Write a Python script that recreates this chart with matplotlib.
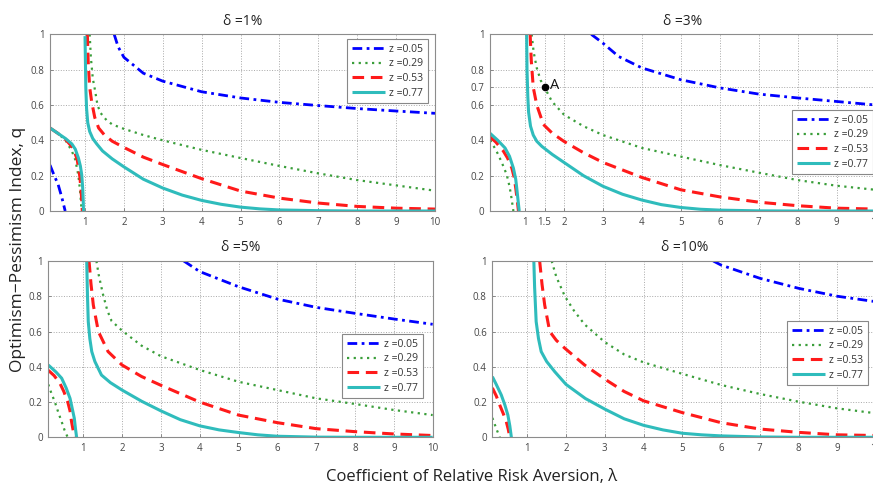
import matplotlib
matplotlib.use('Agg')
import matplotlib.pyplot as plt

# ---- data (lambda, q) per curve branch ----
z_labels = ['z =0.05', 'z =0.29', 'z =0.53', 'z =0.77']
titles = ['\u03b4 =1%', '\u03b4 =3%', '\u03b4 =5%', '\u03b4 =10%']

# delta = 1%
d1_z05_left = [(0.1, 0.26), (0.2, 0.205), (0.31, 0.149), (0.4, 0.08), (0.49, 0.0)]
d1_z05_right = [(1.75, 1.0), (1.85, 0.93), (2.0, 0.87), (2.5, 0.78), (3, 0.735), (4, 0.675),
                (5, 0.64), (6, 0.615), (7, 0.597), (8, 0.58), (9, 0.566), (10, 0.553)]
d1_z29_left = [(0.1, 0.47), (0.3, 0.44), (0.5, 0.40), (0.66, 0.34), (0.75, 0.29), (0.83, 0.2),
               (0.87, 0.12), (0.9, 0.04), (0.91, 0.0)]
d1_z29_right = [(1.12, 1.0), (1.15, 0.87), (1.2, 0.75), (1.26, 0.68), (1.32, 0.6), (1.4, 0.555),
                (1.55, 0.515), (1.7, 0.49), (2, 0.465), (2.5, 0.43), (3, 0.40), (4, 0.346),
                (5, 0.30), (6, 0.255), (7, 0.213), (8, 0.175), (9, 0.145), (10, 0.115)]
d1_z53_left = [(0.1, 0.47), (0.3, 0.44), (0.5, 0.405), (0.7, 0.355), (0.8, 0.29), (0.87, 0.19),
               (0.91, 0.08), (0.93, 0.0)]
d1_z53_right = [(1.06, 1.0), (1.08, 0.85), (1.12, 0.7), (1.17, 0.62), (1.25, 0.53), (1.35, 0.47),
                (1.5, 0.43), (1.7, 0.395), (2, 0.36), (2.5, 0.305), (3, 0.263), (4, 0.183),
                (5, 0.113), (6, 0.073), (7, 0.045), (8, 0.026), (9, 0.016), (10, 0.011)]
d1_z77_left = [(0.1, 0.47), (0.3, 0.44), (0.5, 0.41), (0.66, 0.38), (0.75, 0.35), (0.83, 0.30),
               (0.88, 0.255), (0.915, 0.205), (0.94, 0.13), (0.955, 0.05), (0.96, 0.0)]
d1_z77_right = [(1.0, 0.99), (1.01, 0.85), (1.02, 0.7), (1.04, 0.58), (1.07, 0.5), (1.12, 0.45),
                (1.2, 0.41), (1.3, 0.38), (1.45, 0.34), (1.7, 0.295), (2, 0.25), (2.5, 0.18),
                (3, 0.13), (3.5, 0.09), (4, 0.06), (4.5, 0.038), (5, 0.022), (5.5, 0.012),
                (6, 0.006), (7, 0.002), (8, 0.0), (10, 0.0)]

# delta = 3%
d3_z05_right = [(2.7, 1.0), (3, 0.95), (3.4, 0.875), (4, 0.81), (5, 0.743), (6, 0.697),
                (7, 0.662), (8, 0.64), (9, 0.62), (10, 0.6)]
d3_z29_left = [(0.1, 0.40), (0.2, 0.365), (0.31, 0.32), (0.42, 0.265), (0.53, 0.205),
               (0.6, 0.14), (0.64, 0.09), (0.68, 0.03), (0.7, 0.0)]
d3_z29_right = [(1.17, 1.0), (1.22, 0.9), (1.3, 0.81), (1.4, 0.74), (1.5, 0.7), (1.69, 0.62),
                (2, 0.545), (2.5, 0.48), (3, 0.43), (4, 0.357), (5, 0.308), (6, 0.26),
                (7, 0.217), (8, 0.175), (9, 0.143), (10, 0.12)]
d3_z53_left = [(0.1, 0.42), (0.25, 0.39), (0.44, 0.34), (0.55, 0.3), (0.66, 0.243),
               (0.72, 0.19), (0.76, 0.13), (0.8, 0.06), (0.83, 0.0)]
d3_z53_right = [(1.13, 1.0), (1.16, 0.85), (1.21, 0.70), (1.3, 0.60), (1.47, 0.49), (1.7, 0.44),
                (2, 0.394), (2.5, 0.33), (3, 0.275), (4, 0.19), (5, 0.12), (6, 0.08),
                (7, 0.05), (8, 0.03), (9, 0.016), (10, 0.011)]
d3_z77_left = [(0.1, 0.44), (0.3, 0.40), (0.485, 0.357), (0.6, 0.31), (0.7, 0.243),
               (0.76, 0.18), (0.786, 0.13), (0.82, 0.06), (0.85, 0.0)]
d3_z77_right = [(1.04, 1.0), (1.05, 0.8), (1.07, 0.65), (1.09, 0.56), (1.14, 0.48), (1.21, 0.43),
                (1.3, 0.395), (1.43, 0.366), (1.7, 0.32), (2, 0.275), (2.5, 0.2), (3, 0.14),
                (3.5, 0.095), (4, 0.062), (4.5, 0.036), (5, 0.02), (5.5, 0.01), (6, 0.005),
                (7, 0.001), (8, 0.0), (10, 0.0)]
point_a = (1.5, 0.7)

# delta = 5%
d5_z05_right = [(3.59, 1.0), (4, 0.94), (5, 0.854), (6, 0.784), (7, 0.737), (8, 0.703),
                (9, 0.671), (10, 0.641)]
d5_z29_left = [(0.1, 0.30), (0.18, 0.25), (0.27, 0.2), (0.36, 0.14), (0.445, 0.088),
               (0.52, 0.04), (0.6, 0.0)]
d5_z29_right = [(1.34, 1.0), (1.4, 0.92), (1.51, 0.81), (1.62, 0.72), (1.73, 0.66), (2, 0.605),
                (2.5, 0.52), (3, 0.46), (4, 0.382), (5, 0.315), (6, 0.268), (7, 0.221),
                (8, 0.189), (9, 0.155), (10, 0.126)]
d5_z53_left = [(0.1, 0.38), (0.25, 0.35), (0.4, 0.306), (0.5, 0.26), (0.6, 0.202),
               (0.66, 0.15), (0.7, 0.088), (0.74, 0.04), (0.77, 0.0)]
d5_z53_right = [(1.15, 1.0), (1.2, 0.87), (1.26, 0.75), (1.39, 0.6), (1.64, 0.486), (2, 0.41),
                (2.5, 0.345), (3, 0.295), (4, 0.2), (5, 0.126), (6, 0.083), (7, 0.049),
                (8, 0.032), (9, 0.019), (10, 0.01)]
d5_z77_left = [(0.1, 0.41), (0.3, 0.37), (0.445, 0.335), (0.56, 0.28), (0.66, 0.221),
               (0.72, 0.16), (0.77, 0.108), (0.8, 0.05), (0.83, 0.0)]
d5_z77_right = [(1.09, 1.0), (1.11, 0.8), (1.13, 0.656), (1.17, 0.56), (1.22, 0.486), (1.3, 0.43),
                (1.47, 0.353), (1.7, 0.31), (2, 0.268), (2.5, 0.205), (3, 0.15), (3.5, 0.1),
                (4, 0.065), (4.5, 0.042), (5, 0.027), (5.5, 0.014), (6, 0.006), (7, 0.001),
                (8, 0.0), (10, 0.0)]

# delta = 10%
d10_z05_right = [(5.8, 1.0), (6, 0.977), (7, 0.902), (8, 0.845), (9, 0.80), (10, 0.769)]
d10_z29_left = [(0.1, 0.11), (0.2, 0.05), (0.29, 0.0)]
d10_z29_right = [(1.63, 1.0), (1.75, 0.91), (1.97, 0.80), (2.2, 0.72), (2.48, 0.64), (3, 0.54),
                 (3.5, 0.47), (4, 0.425), (5, 0.36), (6, 0.297), (7, 0.246), (8, 0.202),
                 (9, 0.164), (10, 0.136)]
d10_z53_left = [(0.1, 0.28), (0.2, 0.235), (0.29, 0.183), (0.38, 0.135), (0.46, 0.088),
                (0.51, 0.045), (0.55, 0.0)]
d10_z53_right = [(1.32, 1.0), (1.38, 0.87), (1.45, 0.75), (1.58, 0.6), (1.75, 0.55),
                 (1.97, 0.505), (2.48, 0.41), (3, 0.33), (3.5, 0.26), (4, 0.207), (5, 0.14),
                 (6, 0.083), (7, 0.047), (8, 0.028), (9, 0.014), (10, 0.01)]
d10_z77_left = [(0.1, 0.344), (0.2, 0.3), (0.33, 0.24), (0.42, 0.185), (0.5, 0.126),
                (0.55, 0.065), (0.59, 0.0)]
d10_z77_right = [(1.17, 1.0), (1.19, 0.85), (1.23, 0.656), (1.29, 0.56), (1.36, 0.486),
                 (1.5, 0.43), (1.71, 0.372), (2, 0.3), (2.5, 0.22), (3, 0.16), (3.5, 0.105),
                 (4, 0.068), (4.5, 0.042), (5, 0.023), (5.5, 0.014), (6, 0.008), (7, 0.002),
                 (8, 0.0), (10, 0.0)]

panels = [
    [[d1_z05_left, d1_z05_right], [d1_z29_left, d1_z29_right],
     [d1_z53_left, d1_z53_right], [d1_z77_left, d1_z77_right]],
    [[d3_z05_right], [d3_z29_left, d3_z29_right],
     [d3_z53_left, d3_z53_right], [d3_z77_left, d3_z77_right]],
    [[d5_z05_right], [d5_z29_left, d5_z29_right],
     [d5_z53_left, d5_z53_right], [d5_z77_left, d5_z77_right]],
    [[d10_z05_right], [d10_z29_left, d10_z29_right],
     [d10_z53_left, d10_z53_right], [d10_z77_left, d10_z77_right]],
]

# ---- styling ----
STYLES = [
    dict(color='#0000ff', linestyle=(0, (3.5, 1.6, 1.0, 1.6)), linewidth=2.0),
    dict(color='#3a9e3a', linestyle=(0, (1.0, 2.0)), linewidth=1.6),
    dict(color='#ff1a1a', linestyle=(0, (3.8, 2.2)), linewidth=2.2),
    dict(color='#2fbcbc', linestyle='-', linewidth=2.2),
]
FONT = 'Open Sans'
TICK_COLOR = '#454545'

# axes rectangles in figure fraction (left, bottom, width, height)
RECTS = [
    (0.0573, 0.5676, 0.4410, 0.3620),
    (0.5613, 0.5676, 0.4417, 0.3620),
    (0.0553, 0.1039, 0.4403, 0.3613),
    (0.5640, 0.1039, 0.4395, 0.3613),
]
LEGEND_ANCHORS = [(0.982, 0.973), (0.994, 0.572), (0.975, 0.586), (0.979, 0.66)]

plt.rcParams['font.family'] = [FONT, 'DejaVu Sans']
fig = plt.figure(figsize=(8.73, 4.88), dpi=100)

for i, rect in enumerate(RECTS):
    ax = fig.add_axes(rect)
    for k, branches in enumerate(panels[i]):
        for j, br in enumerate(branches):
            lam = [p[0] for p in br]
            q = [p[1] for p in br]
            ax.plot(lam, q, label=z_labels[k] if j == 0 else None,
                    solid_capstyle='butt', dash_capstyle='butt', **STYLES[k])

    ax.set_xlim(0.1, 10)
    ax.set_ylim(0, 1)
    if i == 1:
        ax.set_xticks([1, 1.5, 2, 3, 4, 5, 6, 7, 8, 9, 10])
        ax.set_xticklabels(['1', '1.5', '2', '3', '4', '5', '6', '7', '8', '9', '10'])
        ax.set_yticks([0, 0.2, 0.4, 0.6, 0.7, 0.8, 1])
        ax.set_yticklabels(['0', '0.2', '0.4', '0.6', '0.7', '0.8', '1'])
        ax.plot([point_a[0]], [point_a[1]], 'o', color='black', markersize=4.5)
        ax.text(point_a[0] + 0.13, point_a[1] + 0.01, 'A', fontsize=10.5,
                va='center', ha='left', color='#111111')
    else:
        ax.set_xticks(range(1, 11))
        ax.set_xticklabels([str(v) for v in range(1, 11)])
        ax.set_yticks([0, 0.2, 0.4, 0.6, 0.8, 1])
        ax.set_yticklabels(['0', '0.2', '0.4', '0.6', '0.8', '1'])

    ax.grid(True, linestyle=':', color='#a8a8a8', linewidth=0.7)
    ax.set_axisbelow(True)
    ax.tick_params(direction='in', length=2.5, width=0.6, labelsize=7,
                   labelcolor=TICK_COLOR, color='#777777', pad=4)
    for s in ax.spines.values():
        s.set_color('#8c8c8c')
        s.set_linewidth(0.8)

    ax.set_title(titles[i], fontsize=10, pad=7, color='#222222')

    leg = ax.legend(loc='upper right', bbox_to_anchor=LEGEND_ANCHORS[i], borderaxespad=0,
                    fontsize=7.5, handlelength=3.2, handletextpad=0.4, labelspacing=0.35,
                    borderpad=0.45, fancybox=False, framealpha=1.0)
    leg.get_frame().set_edgecolor('#888888')
    leg.get_frame().set_linewidth(0.8)
    for t in leg.get_texts():
        t.set_color('#333333')

fig.text(0.021, 0.49, 'Optimism\u2212Pessimism Index, q', rotation=90, fontsize=12.5,
         ha='center', va='center', color='#222222')
fig.text(0.54, 0.022, 'Coefficient of Relative Risk Aversion, \u03bb', fontsize=12,
         ha='center', va='center', color='#222222')

fig.savefig('out.png', dpi=100)
